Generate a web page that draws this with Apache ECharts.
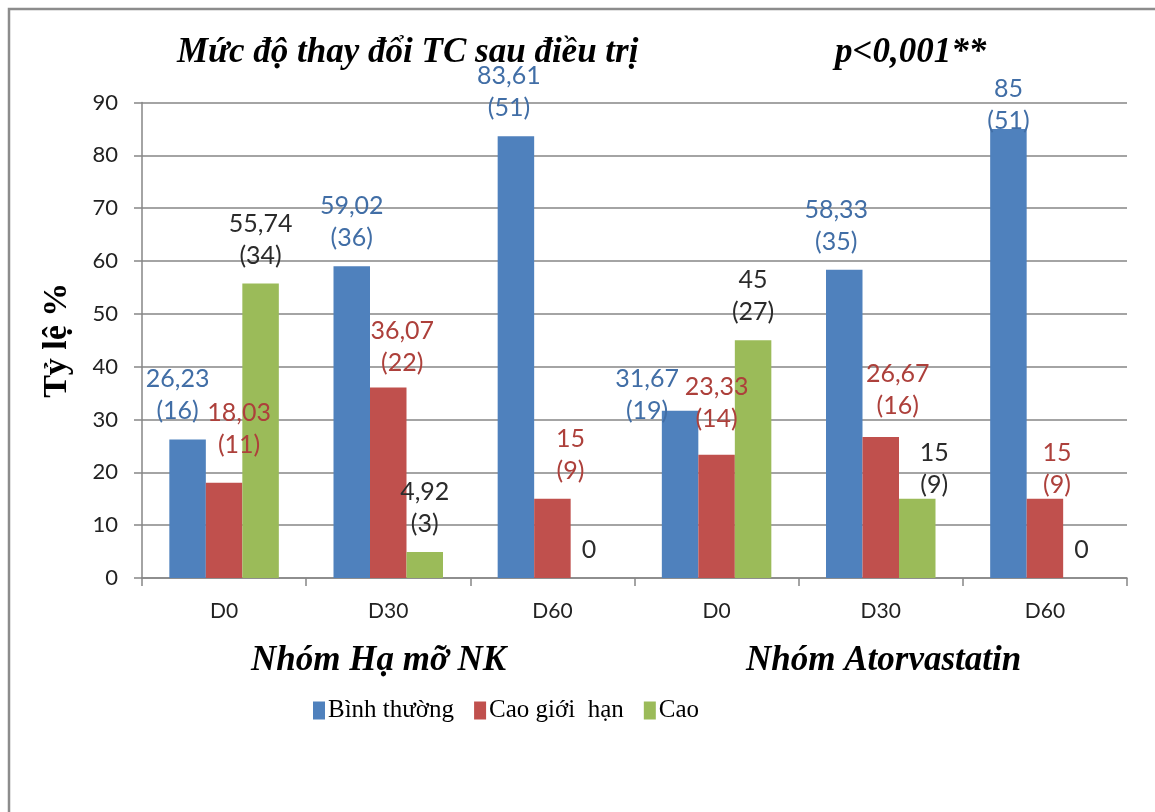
<!DOCTYPE html>
<html>
<head>
<meta charset="utf-8">
<script src="https://cdn.jsdelivr.net/npm/echarts@6/dist/echarts.min.js"></script>
<style>
html,body{margin:0;padding:0;background:#fff;}
#c{width:1155px;height:812px;}
</style>
</head>
<body>
<div id="c"></div>
<script>
const categories = ['D0', 'D30', 'D60', 'D0', 'D30', 'D60'];
const seriesNames = ['Bình thường', 'Cao giới  hạn', 'Cao'];
const normalPct = [26.23, 59.02, 83.61, 31.67, 58.33, 85];
const normalN = [16, 36, 51, 19, 35, 51];
const borderPct = [18.03, 36.07, 15, 23.33, 26.67, 15];
const borderN = [11, 22, 9, 14, 16, 9];
const highPct = [55.74, 4.92, 0, 45, 15, 0];
const highN = [34, 3, 0, 27, 9, 0];
const yTicks = [0, 10, 20, 30, 40, 50, 60, 70, 80, 90];

const barColors = ['#4F81BD', '#C0504D', '#9BBB59'];
const labelColors = ['#416EA6', '#AD403B', '#2b2b2b'];
// label nudges [dx, dy] per series per category (style only)
const nudges = [
  [[-10,0],[0,0],[-7,0],[-33,28],[-8,0],[0,20]],
  [[15,-10],[14,4],[18,0],[0,-8],[17,-3],[12,14]],
  [[0,0],[0,0],[0,0],[0,0],[17,14],[0,0]]
];
const pctSets = [normalPct, borderPct, highPct];
const nSets = [normalN, borderN, highN];

const labelFont = 'Lato, "Open Sans", sans-serif';
const serif = '"Liberation Serif", "DejaVu Serif", serif';

function fmt(v, n) {
  if (v === 0) return '0';
  return String(v).replace('.', ',') + '\n(' + n + ')';
}

const series = seriesNames.map((name, si) => ({
  name: name,
  type: 'bar',
  barWidth: 36.5,
  barGap: '0%',
  itemStyle: { color: barColors[si] },
  data: pctSets[si].map((v, ci) => ({
    value: v,
    label: { offset: nudges[si][ci] }
  })),
  label: {
    show: true,
    position: 'top',
    distance: 12,
    color: labelColors[si],
    fontFamily: labelFont,
    fontSize: 25,
    lineHeight: 32,
    formatter: p => fmt(pctSets[si][p.dataIndex], nSets[si][p.dataIndex])
  }
}));

const titleStyle = { fontFamily: serif, fontStyle: 'italic', fontWeight: 'bold', fontSize: 35, color: '#000' };

const chart = echarts.init(document.getElementById('c'));
chart.setOption({
  animation: false,
  backgroundColor: '#fff',
  title: [
    { text: 'Mức độ thay đổi TC sau điều trị', left: 172, top: 30, textStyle: titleStyle },
    { text: 'p<0,001**', left: 830, top: 30, textStyle: titleStyle },
    { text: 'Nhóm Hạ mỡ NK', left: 246, top: 638, textStyle: titleStyle },
    { text: 'Nhóm Atorvastatin', left: 741, top: 638, textStyle: titleStyle }
  ],
  legend: {
    data: seriesNames,
    left: 308,
    top: 693,
    itemWidth: 12,
    itemHeight: 18,
    itemGap: 20,
    icon: 'rect',
    textStyle: { fontFamily: serif, fontSize: 25, color: '#000', padding: [0, 0, 0, -2] }
  },
  grid: { left: 142, right: 28, top: 102.5, bottom: 234, containLabel: false },
  xAxis: {
    type: 'category',
    data: categories,
    axisLine: { lineStyle: { color: '#868686', width: 1.5 } },
    axisTick: { show: true, length: 8, lineStyle: { color: '#868686', width: 1.5 } },
    axisLabel: { fontFamily: labelFont, fontSize: 21, color: '#222', margin: 23 }
  },
  yAxis: {
    type: 'value',
    min: 0, max: 90, interval: 10,
    name: 'Tỷ lệ %',
    nameLocation: 'middle',
    nameGap: 68,
    nameRotate: 90,
    nameTextStyle: { fontFamily: serif, fontWeight: 'bold', fontSize: 34, color: '#000' },
    axisLine: { show: true, lineStyle: { color: '#868686', width: 1.5 } },
    axisTick: { show: true, length: 8, lineStyle: { color: '#868686', width: 1.5 } },
    splitLine: { lineStyle: { color: '#868686', width: 1.5 } },
    axisLabel: { fontFamily: labelFont, fontSize: 22, color: '#222', margin: 24,
      formatter: v => yTicks.includes(v) ? String(v) : '' }
  },
  graphic: [
    { type: 'rect', shape: { x: 9, y: 9, width: 1200, height: 900 },
      style: { fill: 'none', stroke: '#8c8c8c', lineWidth: 2.5 }, silent: true }
  ],
  series: series
});
</script>
</body>
</html>
